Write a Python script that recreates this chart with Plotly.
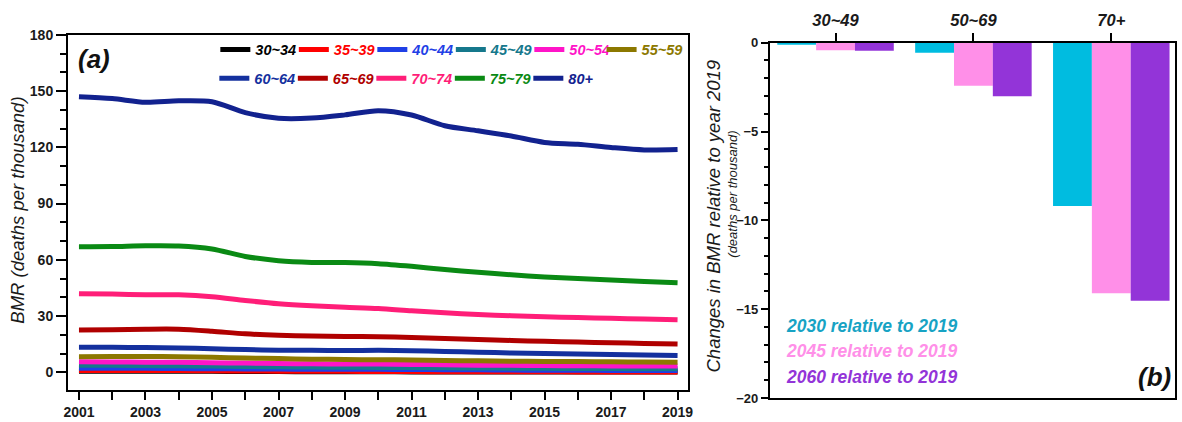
import plotly.graph_objects as go

# ---- panel (a): BMR by age group, 2001-2019 ----
years = list(range(2001, 2020))

age_groups = ["30~34", "35~39", "40~44", "45~49", "50~54", "55~59",
              "60~64", "65~69", "70~74", "75~79", "80+"]
line_colors = ["#000000", "#FF0000", "#1F3FE6", "#15788C", "#FF14C8", "#8C7800",
               "#14309E", "#B00000", "#FF1E78", "#0A8A14", "#12228F"]
# legend group of each age band: first row, last entry of first row, second row
legend_ids = ["legend"] * 5 + ["legend3"] + ["legend2"] * 5

bmr_30_34 = [0.6, 0.6, 0.6, 0.5, 0.5, 0.4, 0.4, 0.3, 0.3, 0.3, 0.2, 0.2, 0.2, 0.2, 0.1, 0.1, 0.1, 0.1, 0.1]
bmr_35_39 = [1.0, 1.0, 0.9, 0.9, 0.8, 0.7, 0.6, 0.5, 0.5, 0.4, 0.4, 0.3, 0.3, 0.3, 0.3, 0.2, 0.2, 0.2, 0.2]
bmr_40_44 = [2.2, 2.2, 2.1, 2.0, 1.9, 1.8, 1.7, 1.6, 1.6, 1.6, 1.5, 1.4, 1.3, 1.2, 1.1, 1.1, 1.0, 1.0, 0.9]
bmr_45_49 = [3.8, 3.7, 3.6, 3.5, 3.3, 3.1, 2.9, 2.8, 2.7, 2.6, 2.5, 2.4, 2.3, 2.2, 2.1, 2.0, 2.0, 1.9, 1.9]
bmr_50_54 = [5.6, 5.5, 5.4, 5.3, 5.1, 4.9, 4.7, 4.5, 4.4, 4.4, 4.2, 4.0, 3.8, 3.7, 3.6, 3.5, 3.4, 3.3, 3.3]
bmr_55_59 = [8.3, 8.4, 8.4, 8.3, 8.0, 7.6, 7.3, 7.0, 6.8, 6.7, 6.6, 6.3, 6.1, 5.9, 5.8, 5.7, 5.6, 5.5, 5.4]
bmr_60_64 = [13.3, 13.3, 13.2, 13.0, 12.6, 12.1, 11.8, 11.7, 11.6, 11.7, 11.5, 11.1, 10.7, 10.3, 10.0, 9.8, 9.5, 9.2, 9.0]
bmr_65_69 = [22.6, 22.7, 23.0, 23.0, 21.9, 20.5, 19.7, 19.3, 19.1, 19.0, 18.5, 18.0, 17.5, 17.0, 16.5, 16.1, 15.8, 15.4, 15.1]
bmr_70_74 = [41.9, 41.7, 41.4, 41.3, 40.3, 38.3, 36.6, 35.5, 34.7, 34.0, 32.8, 31.7, 30.8, 30.2, 29.6, 29.2, 28.8, 28.4, 28.0]
bmr_75_79 = [67.0, 67.1, 67.5, 67.4, 65.8, 61.8, 59.5, 58.6, 58.5, 57.9, 56.5, 54.8, 53.3, 52.0, 50.8, 50.0, 49.2, 48.4, 47.8]
bmr_80_up = [147.0, 146.0, 144.0, 144.8, 144.3, 138.5, 135.5, 135.6, 137.3, 139.5, 137.2, 131.5, 128.8, 126.0, 122.6, 121.6, 119.9, 118.6, 118.8]

bmr_series = [bmr_30_34, bmr_35_39, bmr_40_44, bmr_45_49, bmr_50_54, bmr_55_59,
              bmr_60_64, bmr_65_69, bmr_70_74, bmr_75_79, bmr_80_up]

# ---- panel (b): change relative to 2019 ----
change_groups = ["30~49", "50~69", "70+"]
scenarios = ["2030 relative to 2019", "2045 relative to 2019", "2060 relative to 2019"]
bar_colors = ["#00BCE0", "#FF8FE8", "#9334D8"]
label_colors = ["#17A3C4", "#FF8FE8", "#9334D8"]
change_2030 = [-0.10, -0.57, -9.19]
change_2045 = [-0.43, -2.43, -14.10]
change_2060 = [-0.45, -3.02, -14.52]
change_series = [change_2030, change_2045, change_2060]

FONT = "Arial, 'Liberation Sans', sans-serif"
W, H = 1182, 422
ML, MR, MT, MB = 68, 2, 20, 19
PW, PH = W - ML - MR, H - MT - MB


def px_x(x):
    return (x - ML) / PW


def px_y(y):
    return (H - MB - y) / PH


fig = go.Figure()

for name, vals, col, lg in zip(age_groups, bmr_series, line_colors, legend_ids):
    fig.add_trace(go.Scatter(
        x=years, y=vals, mode="lines",
        line=dict(color=col, width=5, shape="spline", smoothing=0.8),
        name=f"<span style='color:{col}'>{name}</span>",
        legend=lg, xaxis="x", yaxis="y",
    ))

for sc, vals, col in zip(scenarios, change_series, bar_colors):
    fig.add_trace(go.Bar(
        x=change_groups, y=vals, name=sc, marker=dict(color=col, line=dict(width=0)),
        showlegend=False, xaxis="x2", yaxis="y2",
    ))

axis_common = dict(showline=True, linecolor="#000000", linewidth=2, mirror=True,
                   showgrid=False, zeroline=False, ticks="outside", tickcolor="#000000",
                   tickwidth=2,
                   tickfont=dict(family=FONT, size=14, color="#1a1a1a", weight="bold"))

legend_common = dict(orientation="h", bgcolor="rgba(0,0,0,0)", borderwidth=0,
                     font=dict(family=FONT, size=14.5, weight="bold", style="italic"),
                     entrywidth=33.5, entrywidthmode="pixels", itemwidth=30,
                     xanchor="left", yanchor="middle", tracegroupgap=0)
legend_single = dict(legend_common)
legend_single.pop("entrywidth")
legend_single.pop("entrywidthmode")

fig.update_layout(
    width=W, height=H,
    margin=dict(l=ML, r=MR, t=MT, b=MB),
    paper_bgcolor="white", plot_bgcolor="white",
    barmode="group", bargap=0.155, bargroupgap=0,
    xaxis=dict(axis_common, domain=[0, px_x(691)], range=[2000.67, 2019.32],
               tick0=2001, dtick=2, ticklen=8,
               minor=dict(dtick=1, ticklen=8, ticks="outside", tickcolor="#000000", tickwidth=2)),
    yaxis=dict(axis_common, domain=[px_y(395), px_y(35)], range=[-9.5, 180],
               tick0=0, dtick=30, ticklen=10,
               minor=dict(dtick=10, ticklen=6, ticks="outside", tickcolor="#000000", tickwidth=2)),
    xaxis2=dict(axis_common, domain=[px_x(773), 1], range=[-0.4765, 2.462],
                side="top", anchor="y2", ticklen=8,
                tickfont=dict(family=FONT, size=16.5, color="#1a1a1a", weight="bold", style="italic")),
    yaxis2=dict(axis_common, domain=[0, px_y(43)], range=[-20, 0], anchor="x2",
                tick0=0, dtick=5, ticklen=7,
                tickfont=dict(family=FONT, size=13, color="#1a1a1a", weight="bold"),
                minor=dict(dtick=1, ticklen=4, ticks="outside", tickcolor="#000000", tickwidth=2)),
    legend=dict(legend_common, x=px_x(216), y=px_y(50)),
    legend2=dict(legend_common, x=px_x(215), y=px_y(79)),
    legend3=dict(legend_single, x=px_x(604), y=px_y(50)),
    showlegend=True,
)

annotations = [
    dict(text="BMR (deaths per thousand)", x=px_x(17), y=px_y(213), textangle=-90,
         font=dict(family=FONT, size=18.5, color="#1a1a1a", style="italic")),
    dict(text="Changes in BMR relative to year 2019", x=px_x(716), y=px_y(219), textangle=-90,
         font=dict(family=FONT, size=18.5, color="#1a1a1a", style="italic")),
    dict(text="(deaths per thousand)", x=px_x(736), y=px_y(196), textangle=-90,
         font=dict(family=FONT, size=13, color="#1a1a1a", style="italic")),
    dict(text="(a)", x=px_x(94), y=px_y(60),
         font=dict(family=FONT, size=26, color="#111111", weight="bold", style="italic")),
    dict(text="(b)", x=px_x(1159), y=px_y(382),
         font=dict(family=FONT, size=26, color="#111111", weight="bold", style="italic")),
]
for sc, col, yc in zip(scenarios, label_colors, [330, 355, 382]):
    annotations.append(dict(text=sc, x=px_x(787), y=px_y(yc), xanchor="left",
                            font=dict(family=FONT, size=17.5, color=col, weight="bold", style="italic")))

for a in annotations:
    a.setdefault("xanchor", "center")
    a.update(xref="paper", yref="paper", yanchor="middle", showarrow=False)
fig.update_layout(annotations=annotations)

fig.write_html("out.html")
